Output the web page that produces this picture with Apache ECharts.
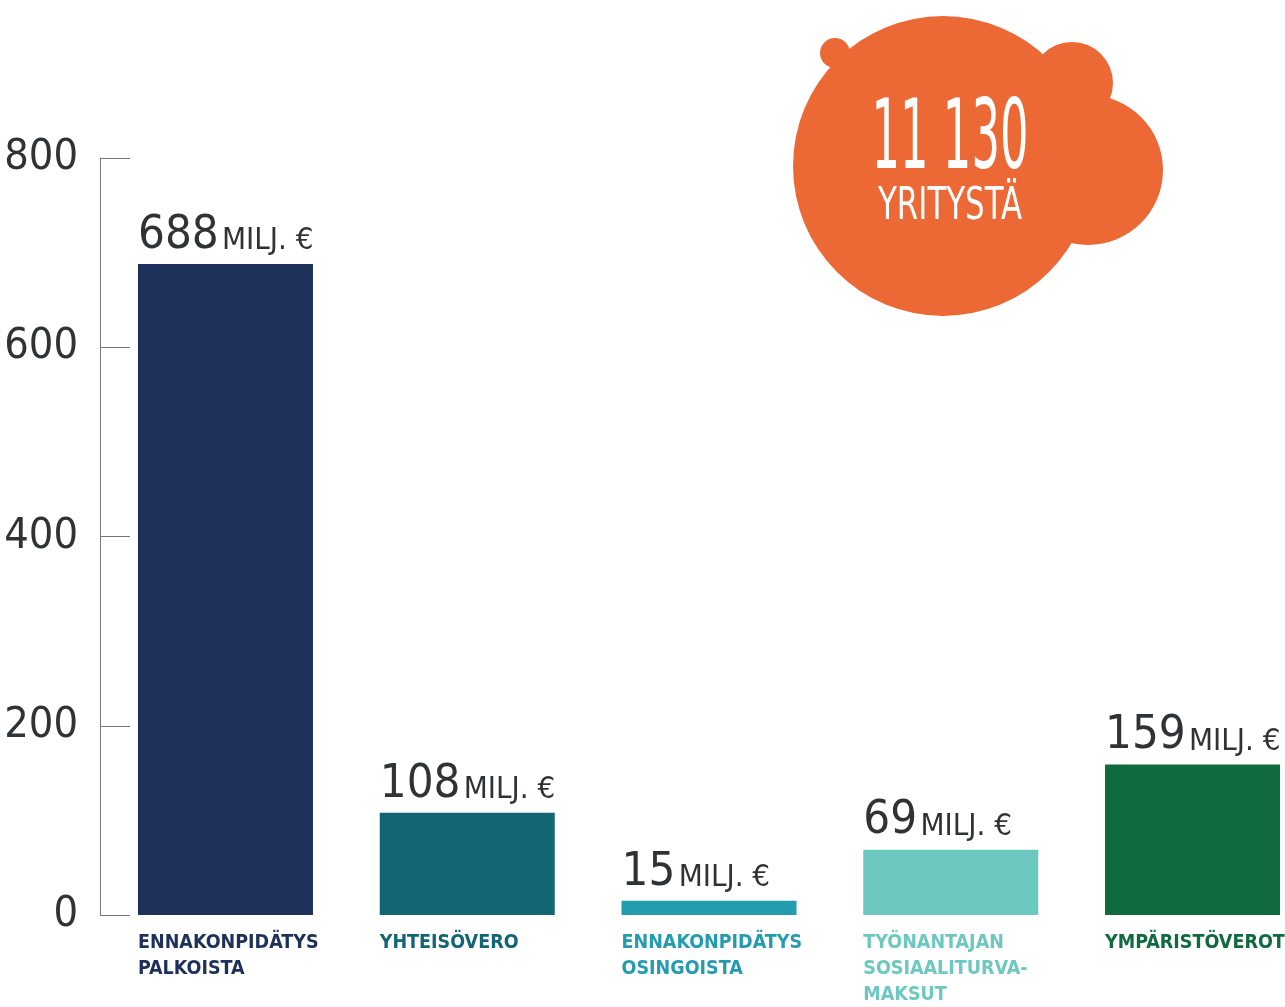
<!DOCTYPE html>
<html>
<head>
<meta charset="utf-8">
<script src="https://cdn.jsdelivr.net/npm/echarts@6/dist/echarts.min.js"></script>
<style>
  html, body { margin: 0; padding: 0; background: #fff; }
  #chart { width: 1285px; height: 1007px; }
</style>
</head>
<body>
<div id="chart"></div>
<script>
// data
const categories = [
  'ENNAKONPIDÄTYS\nPALKOISTA',
  'YHTEISÖVERO',
  'ENNAKONPIDÄTYS\nOSINGOISTA',
  'TYÖNANTAJAN\nSOSIAALITURVA-\nMAKSUT',
  'YMPÄRISTÖVEROT'
];
const values = [688, 108, 15, 69, 159];
const barColors = ['#1d315b', '#116575', '#239cb0', '#6dc9bf', '#0f6b3e'];
const unit = 'MILJ. €';
const companyCount = '11 130';
const companyLabel = 'YRITYSTÄ';

const FONT = "'DejaVu Sans Condensed', 'Liberation Sans Narrow', sans-serif";
const TEXT = '#303335';
const ORANGE = '#ec6834';

var chart = echarts.init(document.getElementById('chart'));

chart.setOption({
  animation: false,
  grid: { left: 104.6, right: -28.4, top: 158, bottom: 92, outerBoundsMode: 'none', containLabel: false },
  xAxis: {
    type: 'category',
    data: categories,
    axisLine: { show: false },
    axisTick: { show: false },
    axisLabel: { show: false }
  },
  yAxis: {
    type: 'value',
    min: 0,
    max: 800,
    interval: 200,
    offset: 4.6,
    splitLine: { show: false },
    axisLine: { show: true, lineStyle: { color: '#777', width: 1 } },
    axisTick: { show: true, inside: true, length: 30, lineStyle: { color: '#777', width: 1 } },
    axisLabel: { margin: 22, fontSize: 43, fontFamily: FONT, color: TEXT }
  },
  series: [
    {
      // pylväät + arvot
      type: 'bar',
      barWidth: 175,
      data: values.map((v, i) => ({ value: v, itemStyle: { color: barColors[i] } })),
      label: {
        show: true,
        position: [0, 0],
        align: 'left',
        verticalAlign: 'bottom',
        offset: [0, -5],
        formatter: p => '{n|' + p.value + '} {u|' + unit + '}',
        rich: {
          n: { fontSize: 47, fontFamily: FONT, color: TEXT, lineHeight: 47 },
          u: { fontSize: 31, fontFamily: FONT, color: TEXT, lineHeight: 31, padding: [11, 0, 0, 0] }
        }
      }
    },
    {
      // kategorianimet pylväiden alle
      type: 'bar',
      barWidth: 175,
      barGap: '-100%',
      silent: true,
      data: values.map((v, i) => ({
        value: v,
        itemStyle: { color: 'rgba(0,0,0,0)' },
        label: { color: barColors[i] }
      })),
      label: {
        show: true,
        position: [0, '100%'],
        align: 'left',
        verticalAlign: 'top',
        offset: [0, 15],
        formatter: p => categories[p.dataIndex],
        fontSize: 19.5,
        lineHeight: 26,
        fontWeight: 'bold',
        fontFamily: FONT
      }
    }
  ],
  graphic: [
    { type: 'circle', shape: { cx: 835, cy: 53, r: 15 }, style: { fill: ORANGE } },
    { type: 'circle', shape: { cx: 1072, cy: 83, r: 41 }, style: { fill: ORANGE } },
    { type: 'circle', shape: { cx: 1088, cy: 170, r: 75 }, style: { fill: ORANGE } },
    { type: 'circle', shape: { cx: 943, cy: 166, r: 150 }, style: { fill: ORANGE } },
    {
      type: 'text', x: 950, y: 143, scaleX: 0.52,
      style: {
        text: companyCount, x: 0, y: 0, align: 'center', verticalAlign: 'middle',
        fontSize: 96, fontFamily: FONT, fill: '#fff'
      }
    },
    {
      type: 'text', x: 950, y: 208, scaleX: 0.78,
      style: {
        text: companyLabel, x: 0, y: 0, align: 'center', verticalAlign: 'middle',
        fontSize: 44, fontFamily: FONT, fill: '#fff'
      }
    }
  ]
});
</script>
</body>
</html>
